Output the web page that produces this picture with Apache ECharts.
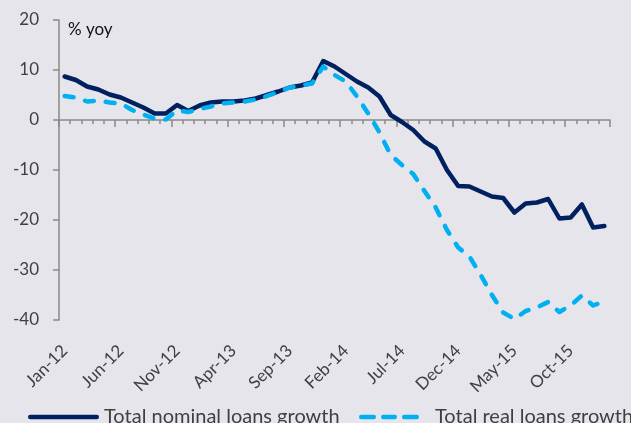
<!DOCTYPE html>
<html>
<head>
<meta charset="utf-8">
<script src="https://cdn.jsdelivr.net/npm/echarts@6/dist/echarts.min.js"></script>
<style>
  html, body { margin: 0; padding: 0; background: #e7e5ec; }
  #chart { width: 631px; height: 423px; }
</style>
</head>
<body>
<div id="chart"></div>
<script>
// month labels Jan-12 .. Jan-16
const monthNames = ["Jan", "Feb", "Mar", "Apr", "May", "Jun", "Jul", "Aug", "Sep", "Oct", "Nov", "Dec"];
const years = ["12", "13", "14", "15", "16"];
const months = [];
years.forEach(y => monthNames.forEach(m => months.push(m + "-" + y)));
months.length = 49;

const nominalGrowth = [8.7, 8.0, 6.7, 6.1, 5.1, 4.5, 3.5, 2.5, 1.3, 1.3, 3.0, 1.8, 2.9, 3.5, 3.7, 3.7, 3.9, 4.3, 5.0, 5.7, 6.5, 6.9, 7.5, 11.8, 10.7, 9.2, 7.7, 6.5, 4.7, 1.0, -0.4, -2.0, -4.3, -5.7, -10.0, -13.2, -13.3, -14.3, -15.3, -15.6, -18.5, -16.7, -16.5, -15.8, -19.7, -19.5, -16.9, -21.5, -21.2];
const realGrowth = [4.8, 4.5, 3.7, 3.9, 3.5, 3.3, 2.0, 1.1, 0.3, 0.1, 1.9, 1.6, 2.2, 2.7, 3.3, 3.5, 3.7, 4.1, 4.8, 5.6, 6.5, 6.9, 7.3, 10.7, 9.0, 7.7, 4.7, 1.3, -2.5, -7.0, -9.0, -10.8, -14.2, -17.5, -22.0, -25.5, -27.3, -31.0, -35.0, -38.5, -39.8, -38.2, -37.5, -36.4, -38.4, -37.1, -35.1, -37.1, -36.3];

const seriesNames = ["Total nominal loans growth", "Total real loans growth"];

const font = "Lato, 'Liberation Sans', sans-serif";
const axisGray = "#898989";
const textGray = "#404040";
const navy = "#002060";
const lightBlue = "#00b0f0";

// legend keys drawn as paths (solid bar / three rounded dashes)
const solidIcon = "path://M2.25,0H68.75A2.25,2.25,0,0,1,68.75,4.5H2.25A2.25,2.25,0,0,1,2.25,0Z";
const dashIcon = "path://M2.25,0H14.75A2.25,2.25,0,0,1,14.75,4.5H2.25A2.25,2.25,0,0,1,2.25,0Z" +
    "M24.25,0H35.75A2.25,2.25,0,0,1,35.75,4.5H24.25A2.25,2.25,0,0,1,24.25,0Z" +
    "M45.25,0H57.75A2.25,2.25,0,0,1,57.75,4.5H45.25A2.25,2.25,0,0,1,45.25,0Z";

const chart = echarts.init(document.getElementById("chart"));

chart.setOption({
    backgroundColor: "#e7e5ec",
    animation: false,
    textStyle: { fontFamily: font },
    grid: [
        { left: 59, right: 21, top: 20, bottom: 103 },
        // upper part only: its bottom edge is the zero line (max 20, min -40)
        { left: 59, right: 21, top: 20, height: 100 },
    ],
    legend: [
        {
            data: [{ name: seriesNames[0], icon: solidIcon }],
            left: 23,
            top: 402,
            itemWidth: 71,
            itemHeight: 4.5,
            textStyle: { fontSize: 20, color: textGray, fontFamily: font },
        },
        {
            data: [{ name: seriesNames[1], icon: dashIcon }],
            left: 354,
            top: 402,
            itemWidth: 60,
            itemHeight: 4.5,
            textStyle: { fontSize: 20, color: textGray, fontFamily: font, padding: [0, 0, 0, 11] },
        },
    ],
    graphic: [
        {
            type: "text",
            left: 68,
            top: 21,
            style: { text: "% yoy", fontSize: 17, fill: "#111", fontFamily: font },
        },
    ],
    xAxis: [
        {
            // labels at the bottom
            type: "category",
            gridIndex: 0,
            data: months,
            boundaryGap: true,
            position: "bottom",
            axisLine: { show: false, onZero: false },
            axisTick: { show: false },
            axisLabel: { interval: 4, rotate: 45, margin: 28, fontSize: 17, color: textGray, fontFamily: font },
            splitLine: { show: false },
        },
        {
            // zero line with monthly ticks
            type: "category",
            gridIndex: 1,
            data: months,
            boundaryGap: true,
            position: "bottom",
            axisLine: { show: true, onZero: false, lineStyle: { color: axisGray, width: 1.5 } },
            axisTick: { show: true, interval: 0, length: 4, lineStyle: { color: axisGray, width: 1.5 } },
            axisLabel: { show: false },
            splitLine: { show: false },
        },
        {
            // longer ticks every 5 months
            type: "category",
            gridIndex: 1,
            data: months,
            boundaryGap: true,
            position: "bottom",
            axisLine: { show: false, onZero: false },
            axisTick: { show: true, interval: 4, length: 7, lineStyle: { color: axisGray, width: 1.5 } },
            axisLabel: { show: false },
            splitLine: { show: false },
        },
    ],
    yAxis: [
        {
            type: "value",
            gridIndex: 0,
            min: -40,
            max: 20,
            interval: 10,
            axisLine: { show: true, lineStyle: { color: axisGray, width: 1.5 } },
            axisTick: { show: true, length: 6, lineStyle: { color: axisGray, width: 1.5 } },
            axisLabel: { margin: 20, fontSize: 17, color: textGray, fontFamily: font },
            splitLine: { show: false },
        },
        {
            type: "value",
            gridIndex: 1,
            min: 0,
            max: 20,
            show: false,
        },
    ],
    series: [
        {
            name: seriesNames[0],
            type: "line",
            xAxisIndex: 0,
            yAxisIndex: 0,
            data: nominalGrowth,
            symbol: "none",
            color: navy,
            z: 3,
            lineStyle: { width: 4.5, color: navy, cap: "round", join: "round" },
        },
        {
            name: seriesNames[1],
            type: "line",
            xAxisIndex: 0,
            yAxisIndex: 0,
            data: realGrowth,
            symbol: "none",
            color: lightBlue,
            z: 4,
            lineStyle: { width: 4.5, color: lightBlue, type: [9, 12], cap: "round", join: "round" },
        },
    ],
});
</script>
</body>
</html>
